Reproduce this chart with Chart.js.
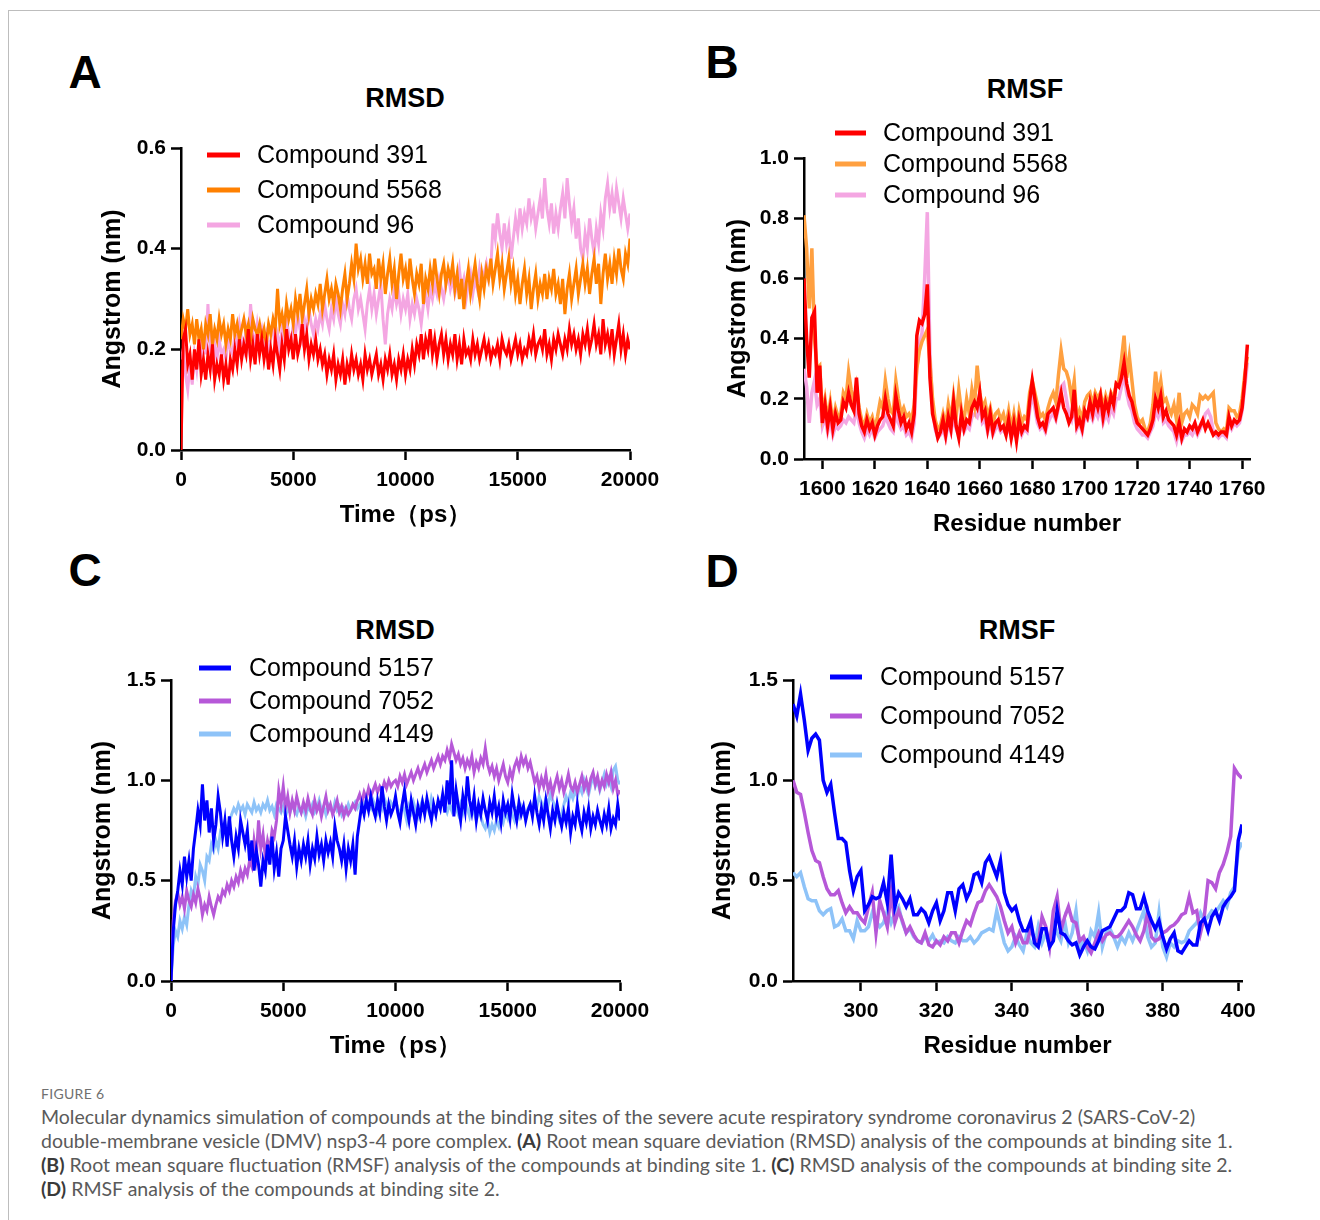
<!DOCTYPE html>
<html>
<head>
<meta charset="utf-8">
<title>Figure 6</title>
<script src="https://cdn.jsdelivr.net/npm/chart.js@4.4.1/dist/chart.umd.min.js"></script>
<style>
  html, body { margin: 0; padding: 0; background: #fff; }
  #page { position: relative; width: 1320px; height: 1220px; overflow: hidden; font-family: 'Liberation Sans', Arial, sans-serif; }
  .frame { position: absolute; left: 8px; top: 10px; width: 1400px; height: 1300px; border-top: 1px solid #bdbdbd; border-left: 1px solid #bdbdbd; }
  .c { position: absolute; transform: translate(-50%, -50%); line-height: 1; white-space: nowrap; color: #000; font-weight: bold; }
  .letter { font-size: 46px; }
  .ptitle { font-size: 27px; }
  canvas { position: absolute; }
  .figno { position: absolute; left: 41px; top: 1085px; font: 14px Lato, sans-serif; color: #707070; letter-spacing: 0.3px; }
  .caption { position: absolute; left: 41px; top: 1105px; font: 19.5px/24px Lato, sans-serif; color: #5a5a5a; white-space: nowrap; }
  .caption b { color: #3a3a3a; }
</style>
</head>
<body>
<div id="page">
  <div class="frame"></div>

  <div class="c letter" style="left:85px;top:72px">A</div>
  <div class="c letter" style="left:722px;top:62px">B</div>
  <div class="c letter" style="left:85px;top:570px">C</div>
  <div class="c letter" style="left:722px;top:571px">D</div>

  <div class="c ptitle" style="left:405px;top:98px">RMSD</div>
  <div class="c ptitle" style="left:1025px;top:89px">RMSF</div>
  <div class="c ptitle" style="left:395px;top:630px">RMSD</div>
  <div class="c ptitle" style="left:1017px;top:630px">RMSF</div>

  <canvas id="chartA" width="572" height="442" style="left:98px;top:88px"></canvas>
  <canvas id="chartB" width="557" height="451" style="left:723px;top:88px"></canvas>
  <canvas id="chartC" width="572" height="441" style="left:88px;top:620px"></canvas>
  <canvas id="chartD" width="564" height="441" style="left:708px;top:620px"></canvas>

  <div class="figno">FIGURE 6</div>
  <div class="caption">Molecular dynamics simulation of compounds at the binding sites of the severe acute respiratory syndrome coronavirus 2 (SARS-CoV-2)<br>double-membrane vesicle (DMV) nsp3-4 pore complex. <b>(A)</b> Root mean square deviation (RMSD) analysis of the compounds at binding site 1.<br><b>(B)</b> Root mean square fluctuation (RMSF) analysis of the compounds at binding site 1. <b>(C)</b> RMSD analysis of the compounds at binding site 2.<br><b>(D)</b> RMSF analysis of the compounds at binding site 2.</div>
</div>

<script>
// ---- data ----
const timePs = Array.from({ length: 201 }, (_, i) => i * 100);
const residuesB = Array.from({ length: 170 }, (_, i) => 1593 + i);
const residuesD = Array.from({ length: 120 }, (_, i) => 282 + i);

const xTicksRmsd = [0, 5000, 10000, 15000, 20000];
const yTicksA = [0, 0.2, 0.4, 0.6];
const xTicksB = [1600, 1620, 1640, 1660, 1680, 1700, 1720, 1740, 1760];
const yTicksB = [0, 0.2, 0.4, 0.6, 0.8, 1.0];
const yTicksCD = [0, 0.5, 1.0, 1.5];
const xTicksD = [300, 320, 340, 360, 380, 400];

// A: RMSD, binding site 1
const rmsd391 = [
  0.00, 0.22, 0.24, 0.17, 0.19, 0.14, 0.20, 0.16, 0.22, 0.15, 0.18, 0.14, 0.19, 0.16, 0.21, 0.14, 0.17, 0.15, 0.19, 0.14,
  0.17, 0.13, 0.18, 0.16, 0.20, 0.17, 0.22, 0.18, 0.21, 0.19, 0.24, 0.18, 0.21, 0.17, 0.23, 0.19, 0.22, 0.18, 0.21, 0.16,
  0.20, 0.17, 0.22, 0.19, 0.16, 0.21, 0.18, 0.24, 0.20, 0.22, 0.18, 0.23, 0.19, 0.21, 0.25, 0.20, 0.23, 0.18, 0.21, 0.19,
  0.22, 0.18, 0.20, 0.17, 0.19, 0.15, 0.18, 0.16, 0.19, 0.14, 0.17, 0.15, 0.18, 0.13, 0.17, 0.15, 0.19, 0.16, 0.18, 0.15,
  0.17, 0.14, 0.19, 0.16, 0.18, 0.15, 0.17, 0.19, 0.15, 0.17, 0.14, 0.18, 0.16, 0.19, 0.15, 0.17, 0.14, 0.18, 0.16, 0.19,
  0.15, 0.18, 0.16, 0.20, 0.17, 0.21, 0.19, 0.23, 0.18, 0.22, 0.20, 0.24, 0.19, 0.22, 0.18, 0.21, 0.23, 0.19, 0.22, 0.18,
  0.21, 0.19, 0.23, 0.18, 0.21, 0.17, 0.22, 0.19, 0.20, 0.18, 0.22, 0.19, 0.21, 0.18, 0.20, 0.22, 0.19, 0.21, 0.18, 0.20,
  0.19, 0.21, 0.18, 0.22, 0.20, 0.19, 0.21, 0.18, 0.20, 0.22, 0.19, 0.21, 0.18, 0.20, 0.19, 0.22, 0.20, 0.23, 0.19, 0.21,
  0.22, 0.20, 0.24, 0.19, 0.21, 0.18, 0.22, 0.20, 0.23, 0.21, 0.19, 0.22, 0.20, 0.24, 0.21, 0.23, 0.20, 0.22, 0.19, 0.23,
  0.21, 0.24, 0.20, 0.22, 0.25, 0.21, 0.23, 0.19, 0.26, 0.21, 0.23, 0.20, 0.24, 0.19, 0.22, 0.25, 0.20, 0.23, 0.19, 0.22,
  0.20
];
const rmsd5568 = [
  0.22, 0.26, 0.24, 0.28, 0.23, 0.25, 0.21, 0.26, 0.22, 0.24, 0.20, 0.25, 0.23, 0.27, 0.21, 0.24, 0.22, 0.26, 0.23, 0.25,
  0.21, 0.24, 0.22, 0.27, 0.23, 0.25, 0.22, 0.24, 0.26, 0.23, 0.25, 0.22, 0.26, 0.24, 0.23, 0.25, 0.22, 0.24, 0.21, 0.25,
  0.23, 0.26, 0.24, 0.32, 0.25, 0.27, 0.24, 0.29, 0.26, 0.28, 0.25, 0.30, 0.27, 0.31, 0.26, 0.29, 0.32, 0.27, 0.30, 0.28,
  0.31, 0.29, 0.33, 0.28, 0.31, 0.34, 0.30, 0.32, 0.29, 0.33, 0.31, 0.28, 0.32, 0.35, 0.30, 0.33, 0.37, 0.34, 0.41, 0.36,
  0.38, 0.34, 0.37, 0.33, 0.39, 0.35, 0.36, 0.32, 0.38, 0.34, 0.37, 0.31, 0.35, 0.38, 0.33, 0.36, 0.30, 0.35, 0.39, 0.34,
  0.36, 0.32, 0.38, 0.34, 0.31, 0.35, 0.33, 0.37, 0.29, 0.34, 0.32, 0.36, 0.33, 0.38, 0.34, 0.31, 0.35, 0.37, 0.33, 0.36,
  0.34, 0.37, 0.32, 0.35, 0.30, 0.34, 0.28, 0.33, 0.36, 0.31, 0.34, 0.37, 0.33, 0.30, 0.35, 0.32, 0.36, 0.34, 0.38, 0.33,
  0.36, 0.39, 0.34, 0.37, 0.32, 0.35, 0.38, 0.33, 0.36, 0.31, 0.34, 0.29, 0.33, 0.36, 0.31, 0.34, 0.28, 0.32, 0.35, 0.30,
  0.33, 0.31, 0.35, 0.30, 0.34, 0.32, 0.36, 0.31, 0.33, 0.29, 0.34, 0.27, 0.32, 0.35, 0.30, 0.33, 0.36, 0.31, 0.34, 0.37,
  0.33, 0.36, 0.31, 0.35, 0.38, 0.33, 0.37, 0.29, 0.35, 0.39, 0.34, 0.37, 0.33, 0.38, 0.35, 0.40, 0.36, 0.34, 0.39, 0.37,
  0.42
];
const rmsd96 = [
  0.18, 0.20, 0.15, 0.12, 0.17, 0.13, 0.19, 0.16, 0.21, 0.18, 0.23, 0.19, 0.29, 0.20, 0.17, 0.21, 0.18, 0.22, 0.19, 0.20,
  0.18, 0.22, 0.20, 0.19, 0.23, 0.21, 0.25, 0.22, 0.20, 0.24, 0.21, 0.29, 0.23, 0.21, 0.25, 0.22, 0.24, 0.21, 0.23, 0.20,
  0.22, 0.25, 0.21, 0.23, 0.20, 0.24, 0.22, 0.26, 0.23, 0.21, 0.25, 0.23, 0.27, 0.24, 0.22, 0.26, 0.24, 0.28, 0.25, 0.23,
  0.26, 0.24, 0.27, 0.25, 0.29, 0.26, 0.24, 0.28, 0.26, 0.30, 0.27, 0.25, 0.29, 0.27, 0.31, 0.28, 0.26, 0.30, 0.32, 0.28,
  0.30, 0.27, 0.24, 0.29, 0.32, 0.28, 0.31, 0.27, 0.30, 0.33, 0.26, 0.21, 0.27, 0.30, 0.28, 0.32, 0.29, 0.31, 0.27, 0.30,
  0.28, 0.31, 0.26, 0.29, 0.27, 0.30, 0.28, 0.25, 0.29, 0.31, 0.28, 0.32, 0.30, 0.33, 0.31, 0.34, 0.32, 0.30, 0.33, 0.35,
  0.32, 0.34, 0.31, 0.33, 0.36, 0.32, 0.34, 0.30, 0.33, 0.35, 0.31, 0.34, 0.32, 0.36, 0.33, 0.35, 0.37, 0.34, 0.36, 0.45,
  0.42, 0.47, 0.43, 0.40, 0.45, 0.41, 0.44, 0.38, 0.42, 0.46, 0.43, 0.48, 0.44, 0.47, 0.45, 0.50, 0.46, 0.48, 0.44, 0.47,
  0.50, 0.46, 0.54, 0.48, 0.45, 0.49, 0.43, 0.47, 0.44, 0.48, 0.51, 0.46, 0.54, 0.49, 0.45, 0.48, 0.42, 0.46, 0.40, 0.38,
  0.43, 0.40, 0.46, 0.42, 0.39, 0.44, 0.41, 0.47, 0.44, 0.50, 0.53, 0.48, 0.51, 0.47, 0.52, 0.49, 0.46, 0.50, 0.47, 0.44,
  0.47
];

// B: RMSF, binding site 1 (residues 1593-1762)
const rmsf391 = [
  0.60, 0.40, 0.27, 0.47, 0.49, 0.22, 0.31, 0.12, 0.18, 0.11,
  0.17, 0.10, 0.15, 0.12, 0.13, 0.19, 0.17, 0.22, 0.18, 0.16,
  0.27, 0.15, 0.11, 0.09, 0.13, 0.10, 0.12, 0.08, 0.11, 0.13,
  0.14, 0.20, 0.15, 0.13, 0.11, 0.21, 0.16, 0.12, 0.14, 0.10,
  0.12, 0.09, 0.15, 0.41, 0.46, 0.45, 0.48, 0.58, 0.27, 0.15,
  0.11, 0.07, 0.09, 0.13, 0.08, 0.14, 0.10, 0.19, 0.11, 0.07,
  0.15, 0.10, 0.13, 0.12, 0.17, 0.19, 0.17, 0.22, 0.14, 0.16,
  0.10, 0.15, 0.09, 0.12, 0.13, 0.10, 0.11, 0.08, 0.13, 0.07,
  0.12, 0.06, 0.13, 0.09, 0.11, 0.10, 0.19, 0.26, 0.20, 0.14,
  0.11, 0.12, 0.10, 0.15, 0.16, 0.17, 0.14, 0.18, 0.22, 0.17,
  0.15, 0.12, 0.14, 0.23, 0.11, 0.13, 0.10, 0.16, 0.14, 0.19,
  0.15, 0.20, 0.17, 0.21, 0.14, 0.19, 0.16, 0.21, 0.18, 0.25,
  0.24, 0.27, 0.32, 0.25, 0.21, 0.19, 0.15, 0.12, 0.11, 0.10,
  0.09, 0.08, 0.10, 0.13, 0.20, 0.17, 0.21, 0.14, 0.16, 0.13,
  0.12, 0.11, 0.08, 0.12, 0.07, 0.10, 0.09, 0.11, 0.10, 0.12,
  0.09, 0.11, 0.13, 0.10, 0.12, 0.10, 0.08, 0.09, 0.08, 0.09,
  0.09, 0.08, 0.14, 0.11, 0.13, 0.12, 0.13, 0.17, 0.26, 0.38
];
const rmsf5568 = [
  0.81, 0.70, 0.50, 0.70, 0.40, 0.30, 0.31, 0.15, 0.20, 0.13,
  0.19, 0.12, 0.17, 0.14, 0.15, 0.22, 0.20, 0.29, 0.23, 0.19,
  0.24, 0.17, 0.13, 0.11, 0.15, 0.12, 0.14, 0.10, 0.14, 0.19,
  0.17, 0.26, 0.20, 0.16, 0.15, 0.26, 0.20, 0.15, 0.17, 0.14,
  0.15, 0.13, 0.18, 0.30, 0.36, 0.39, 0.41, 0.43, 0.32, 0.20,
  0.13, 0.10, 0.11, 0.15, 0.11, 0.18, 0.13, 0.21, 0.14, 0.23,
  0.16, 0.13, 0.20, 0.15, 0.23, 0.18, 0.31, 0.22, 0.17, 0.19,
  0.14, 0.17, 0.12, 0.15, 0.16, 0.13, 0.15, 0.11, 0.16, 0.10,
  0.15, 0.09, 0.16, 0.12, 0.14, 0.13, 0.22, 0.26, 0.22, 0.18,
  0.14, 0.15, 0.13, 0.17, 0.20, 0.22, 0.19, 0.28, 0.36, 0.30,
  0.29, 0.26, 0.20, 0.26, 0.13, 0.16, 0.13, 0.19, 0.21, 0.22,
  0.18, 0.22, 0.20, 0.22, 0.17, 0.21, 0.18, 0.22, 0.20, 0.25,
  0.26, 0.33, 0.41, 0.27, 0.34, 0.26, 0.18, 0.14, 0.12, 0.13,
  0.10, 0.09, 0.12, 0.18, 0.29, 0.21, 0.26, 0.19, 0.20, 0.17,
  0.15, 0.18, 0.13, 0.22, 0.12, 0.15, 0.16, 0.14, 0.18, 0.17,
  0.15, 0.21, 0.20, 0.21, 0.20, 0.21, 0.22, 0.12, 0.10, 0.09,
  0.10, 0.09, 0.17, 0.16, 0.16, 0.14, 0.15, 0.20, 0.28, 0.34
];
const rmsf96 = [
  0.30, 0.24, 0.12, 0.22, 0.26, 0.18, 0.20, 0.11, 0.14, 0.09,
  0.13, 0.08, 0.11, 0.10, 0.11, 0.13, 0.12, 0.14, 0.13, 0.12,
  0.17, 0.12, 0.09, 0.07, 0.10, 0.08, 0.10, 0.07, 0.09, 0.10,
  0.11, 0.14, 0.12, 0.10, 0.09, 0.15, 0.12, 0.10, 0.11, 0.08,
  0.09, 0.07, 0.12, 0.30, 0.38, 0.42, 0.60, 0.82, 0.35, 0.18,
  0.10, 0.07, 0.08, 0.10, 0.07, 0.12, 0.09, 0.14, 0.10, 0.08,
  0.12, 0.09, 0.11, 0.10, 0.14, 0.15, 0.14, 0.18, 0.12, 0.13,
  0.09, 0.12, 0.08, 0.10, 0.11, 0.09, 0.10, 0.08, 0.11, 0.07,
  0.10, 0.07, 0.11, 0.08, 0.10, 0.09, 0.16, 0.22, 0.17, 0.12,
  0.10, 0.11, 0.09, 0.12, 0.14, 0.15, 0.13, 0.17, 0.24, 0.25,
  0.20, 0.15, 0.13, 0.18, 0.10, 0.12, 0.09, 0.14, 0.13, 0.15,
  0.13, 0.16, 0.14, 0.17, 0.12, 0.15, 0.13, 0.17, 0.15, 0.20,
  0.20, 0.24, 0.28, 0.22, 0.18, 0.16, 0.12, 0.10, 0.09, 0.08,
  0.08, 0.07, 0.09, 0.11, 0.16, 0.14, 0.17, 0.12, 0.13, 0.11,
  0.10, 0.09, 0.06, 0.10, 0.06, 0.08, 0.08, 0.09, 0.08, 0.10,
  0.08, 0.10, 0.12, 0.15, 0.16, 0.14, 0.09, 0.08, 0.07, 0.08,
  0.08, 0.07, 0.12, 0.10, 0.12, 0.11, 0.12, 0.16, 0.24, 0.32
];

// C: RMSD, binding site 2
const rmsd5157 = [
  0.00, 0.25, 0.38, 0.45, 0.55, 0.48, 0.62, 0.52, 0.60, 0.50, 0.66, 0.75, 0.85, 0.78, 0.98, 0.80, 0.90, 0.74, 0.86, 0.70,
  0.78, 0.92, 0.84, 0.72, 0.80, 0.67, 0.82, 0.70, 0.62, 0.72, 0.66, 0.80, 0.74, 0.68, 0.75, 0.60, 0.70, 0.55, 0.65, 0.58,
  0.47, 0.60, 0.55, 0.68, 0.58, 0.72, 0.56, 0.64, 0.52, 0.66, 0.70, 0.82, 0.75, 0.68, 0.62, 0.70, 0.57, 0.66, 0.60, 0.68,
  0.62, 0.70, 0.58, 0.66, 0.61, 0.72, 0.63, 0.68, 0.60, 0.70, 0.64, 0.69, 0.62, 0.77, 0.70, 0.66, 0.60, 0.68, 0.56, 0.66,
  0.60, 0.68, 0.53, 0.72, 0.80, 0.88, 0.83, 0.90, 0.85, 0.92, 0.86, 0.82, 0.90, 0.84, 0.97, 0.87, 0.80, 0.88, 0.83, 0.86,
  0.92, 0.84, 0.79, 0.88, 0.95, 0.86, 0.80, 0.90, 0.84, 0.78, 0.87, 0.82, 0.89, 0.83, 0.91, 0.85, 0.80, 0.88, 0.83, 0.90,
  0.86, 0.93, 0.84, 1.00, 0.88, 1.10, 0.82, 0.95, 0.87, 0.80, 0.92, 0.85, 1.02, 0.90, 0.84, 0.92, 0.80, 0.88, 0.83, 0.91,
  0.85, 0.80, 0.89, 0.84, 0.92, 0.82, 0.87, 0.79, 0.90, 0.84, 0.88, 0.81, 0.93, 0.86, 0.80, 0.89, 0.83, 0.87, 0.80, 0.85,
  0.88, 0.82, 0.92, 0.84, 0.78, 0.86, 0.80, 0.90, 0.83, 0.76, 0.85, 0.80, 0.88, 0.82, 0.77, 0.84, 0.79, 0.86, 0.74, 0.82,
  0.78, 0.88, 0.80, 0.75, 0.84, 0.79, 0.86, 0.76, 0.82, 0.78, 0.85, 0.80, 0.76, 0.83, 0.78, 0.86, 0.76, 0.81, 0.78, 0.88,
  0.80
];
const rmsd7052 = [
  0.00, 0.30, 0.40, 0.44, 0.38, 0.42, 0.36, 0.45, 0.40, 0.37, 0.43, 0.39, 0.46, 0.41, 0.33, 0.38, 0.35, 0.42, 0.37, 0.33,
  0.38, 0.42, 0.40, 0.45, 0.43, 0.48, 0.45, 0.50, 0.47, 0.52, 0.49, 0.55, 0.51, 0.56, 0.53, 0.60, 0.57, 0.70, 0.62, 0.80,
  0.66, 0.73, 0.62, 0.70, 0.65, 0.75, 0.72, 0.80, 0.95, 0.88, 0.97, 0.86, 0.92, 0.84, 0.90, 0.85, 0.92, 0.87, 0.84, 0.89,
  0.85, 0.91, 0.86, 0.83, 0.90, 0.85, 0.88, 0.82, 0.87, 0.92, 0.85, 0.88, 0.83, 0.86, 0.90, 0.84, 0.87, 0.82, 0.86, 0.83,
  0.85, 0.88, 0.86, 0.90, 0.93, 0.89, 0.94, 0.91, 0.96, 0.92, 0.95, 0.98, 0.94, 0.97, 0.95, 0.99, 0.96, 1.00, 0.97, 0.99,
  1.00, 0.97, 1.02, 0.99, 1.03, 0.98, 1.01, 1.04, 1.00, 1.03, 1.06, 1.02, 1.05, 1.08, 1.04, 1.07, 1.10, 1.06, 1.09, 1.12,
  1.08, 1.12, 1.10, 1.15, 1.11, 1.18, 1.14, 1.10, 1.13, 1.08, 1.11, 1.06, 1.10, 1.07, 1.12, 1.04, 1.09, 1.06, 1.11, 1.08,
  1.16, 1.08, 1.04, 1.07, 1.02, 1.06, 1.00, 1.04, 1.08, 1.02, 0.99, 1.05, 1.01, 1.07, 1.10, 1.06, 1.12, 1.08, 1.11, 1.06,
  1.09, 1.04, 0.99, 1.02, 0.96, 1.01, 0.97, 1.03, 0.95, 0.99, 0.93, 0.98, 1.02, 0.96, 1.00, 0.94, 0.98, 1.03, 0.97, 0.95,
  0.99, 0.94, 0.98, 1.02, 0.96, 1.00, 0.95, 1.01, 1.04, 0.98, 1.02, 0.96, 1.00, 0.97, 1.03, 0.99, 1.04, 0.96, 1.00, 0.93,
  0.95
];
const rmsd4149 = [
  0.00, 0.18, 0.25, 0.22, 0.30, 0.26, 0.32, 0.28, 0.38, 0.45, 0.42, 0.52, 0.48, 0.58, 0.55, 0.50, 0.62, 0.60, 0.68, 0.65,
  0.70, 0.66, 0.74, 0.72, 0.78, 0.75, 0.80, 0.83, 0.86, 0.84, 0.88, 0.85, 0.87, 0.83, 0.88, 0.86, 0.84, 0.89, 0.85, 0.87,
  0.84, 0.88, 0.86, 0.90, 0.85, 0.87, 0.83, 0.88, 0.86, 0.84, 0.87, 0.82, 0.86, 0.84, 0.88, 0.85, 0.83, 0.87, 0.84, 0.86,
  0.82, 0.87, 0.85, 0.88, 0.84, 0.86, 0.90, 0.85, 0.87, 0.83, 0.88, 0.86, 0.84, 0.89, 0.85, 0.87, 0.83, 0.86, 0.84, 0.88,
  0.85, 0.87, 0.89, 0.86, 0.88, 0.90, 0.87, 0.91, 0.88, 0.86, 0.90, 0.87, 0.84, 0.89, 0.86, 0.91, 0.88, 0.85, 0.89, 0.87,
  0.90, 0.86, 0.83, 0.88, 0.85, 0.80, 0.87, 0.84, 0.89, 0.85, 0.82, 0.87, 0.90, 0.86, 0.88, 0.84, 0.91, 0.87, 0.85, 0.89,
  0.86, 0.90, 0.87, 0.84, 0.88, 0.85, 0.89, 0.86, 0.83, 0.88, 0.84, 0.90, 0.86, 0.82, 0.87, 0.84, 0.80, 0.85, 0.82, 0.78,
  0.76, 0.80, 0.74, 0.78, 0.75, 0.80, 0.77, 0.82, 0.79, 0.84, 0.81, 0.86, 0.83, 0.80, 0.85, 0.82, 0.87, 0.84, 0.81, 0.86,
  0.88, 0.85, 0.90, 0.87, 0.92, 0.89, 0.86, 0.91, 0.88, 0.93, 0.90, 0.87, 0.84, 0.80, 0.83, 0.88, 0.92, 0.89, 0.94, 0.91,
  0.95, 0.92, 0.97, 0.94, 1.00, 0.96, 0.93, 0.98, 1.02, 0.97, 1.00, 0.95, 0.99, 1.03, 0.98, 1.01, 0.97, 1.05, 1.07, 1.00,
  0.98
];

// D: RMSF, binding site 2 (residues 282-401)
const rmsfD5157 = [
  1.38, 1.32, 1.43, 1.30, 1.15, 1.21, 1.23, 1.20, 1.00, 0.94,
  0.98, 0.84, 0.71, 0.71, 0.69, 0.55, 0.45, 0.52, 0.55, 0.35,
  0.38, 0.42, 0.41, 0.42, 0.49, 0.39, 0.63, 0.37, 0.44, 0.41,
  0.37, 0.41, 0.33, 0.33, 0.36, 0.34, 0.29, 0.35, 0.39, 0.30,
  0.35, 0.44, 0.44, 0.35, 0.46, 0.48, 0.41, 0.45, 0.53, 0.54,
  0.49, 0.59, 0.62, 0.57, 0.52, 0.60, 0.44, 0.38, 0.35, 0.37,
  0.30, 0.25, 0.25, 0.30, 0.19, 0.17, 0.26, 0.26, 0.17, 0.20,
  0.35, 0.24, 0.23, 0.20, 0.18, 0.19, 0.13, 0.17, 0.20, 0.17,
  0.16, 0.20, 0.25, 0.26, 0.27, 0.31, 0.35, 0.35, 0.37, 0.44,
  0.43, 0.36, 0.36, 0.42, 0.35, 0.30, 0.26, 0.30, 0.22, 0.16,
  0.21, 0.24, 0.15, 0.14, 0.17, 0.20, 0.18, 0.18, 0.29, 0.31,
  0.25, 0.32, 0.35, 0.30, 0.37, 0.40, 0.42, 0.45, 0.70, 0.78
];
const rmsfD7052 = [
  1.00, 0.94, 0.93, 0.84, 0.74, 0.65, 0.60, 0.59, 0.52, 0.46,
  0.43, 0.43, 0.45, 0.39, 0.34, 0.37, 0.34, 0.34, 0.31, 0.29,
  0.37, 0.44, 0.24, 0.40, 0.34, 0.27, 0.44, 0.29, 0.35, 0.30,
  0.24, 0.27, 0.23, 0.20, 0.19, 0.24, 0.18, 0.17, 0.20, 0.18,
  0.22, 0.20, 0.24, 0.24, 0.19, 0.25, 0.30, 0.28, 0.34, 0.39,
  0.40, 0.45, 0.48, 0.45, 0.42, 0.37, 0.30, 0.24, 0.27, 0.19,
  0.24, 0.19, 0.19, 0.26, 0.21, 0.19, 0.32, 0.27, 0.17, 0.35,
  0.42, 0.25, 0.32, 0.37, 0.30, 0.29, 0.20, 0.22, 0.17, 0.14,
  0.19, 0.24, 0.20, 0.23, 0.24, 0.22, 0.22, 0.24, 0.27, 0.30,
  0.27, 0.23, 0.20, 0.25, 0.34, 0.22, 0.20, 0.21, 0.24, 0.25,
  0.27, 0.28, 0.30, 0.33, 0.34, 0.42, 0.34, 0.35, 0.24, 0.32,
  0.50, 0.49, 0.46, 0.54, 0.58, 0.64, 0.72, 1.06, 1.03, 1.01
];
const rmsfD4149 = [
  0.54, 0.52, 0.54, 0.47, 0.41, 0.40, 0.40, 0.35, 0.33, 0.35,
  0.36, 0.27, 0.28, 0.31, 0.25, 0.25, 0.21, 0.30, 0.25, 0.25,
  0.27, 0.34, 0.30, 0.27, 0.29, 0.35, 0.29, 0.34, 0.37, 0.29,
  0.24, 0.26, 0.22, 0.20, 0.19, 0.22, 0.20, 0.23, 0.19, 0.20,
  0.19, 0.22, 0.20, 0.19, 0.22, 0.20, 0.20, 0.22, 0.19, 0.21,
  0.24, 0.25, 0.26, 0.25, 0.35, 0.27, 0.19, 0.15, 0.17, 0.22,
  0.18, 0.15, 0.24, 0.19, 0.17, 0.27, 0.19, 0.24, 0.17, 0.30,
  0.24, 0.20, 0.30, 0.19, 0.24, 0.35, 0.17, 0.20, 0.15, 0.25,
  0.22, 0.34, 0.17, 0.24, 0.26, 0.22, 0.17, 0.22, 0.19, 0.24,
  0.20, 0.25, 0.30, 0.35, 0.22, 0.17, 0.19, 0.34, 0.17, 0.12,
  0.19, 0.17, 0.20, 0.19, 0.20, 0.25, 0.27, 0.29, 0.34, 0.30,
  0.32, 0.35, 0.34, 0.37, 0.40, 0.37, 0.44, 0.47, 0.65, 0.69
];

// ---- chart setup ----
Chart.defaults.font.family = "'Liberation Sans', Arial, sans-serif";
Chart.defaults.color = '#000';

const tickFont = { size: 21, weight: 'bold' };
const axisTitleFont = { size: 24, weight: 'bold' };
const yTitleFont = { size: 25, weight: 'bold' };

// legend drawn inside / above the plot, like the Prism originals
const insetLegend = {
  id: 'insetLegend',
  afterDatasetsDraw(chart, args, opts) {
    const { ctx, chartArea } = chart;
    ctx.save();
    ctx.font = opts.font;
    ctx.textBaseline = 'middle';
    ctx.textAlign = 'left';
    chart.data.datasets.forEach((ds, i) => {
      const y = chartArea.top + opts.dy + i * opts.gap;
      const x0 = chartArea.left + opts.dx;
      ctx.strokeStyle = ds.borderColor;
      ctx.lineWidth = 5;
      ctx.beginPath();
      ctx.moveTo(x0, y);
      ctx.lineTo(x0 + opts.len, y);
      ctx.stroke();
      ctx.fillStyle = '#000';
      ctx.fillText(ds.label, x0 + opts.len + opts.textGap, y + 1);
    });
    ctx.restore();
  }
};

function makePanel(id, cfg) {
  const canvas = document.getElementById(id);
  if (!canvas) {
    console.error('Canvas no encontrado: ' + id);
    return null;
  }
  return new Chart(canvas, {
    type: 'line',
    data: {
      datasets: cfg.series.map(s => ({
        label: s.label,
        data: s.values.map((v, i) => ({ x: cfg.xs[i], y: v })),
        borderColor: s.color,
        backgroundColor: s.color,
        borderWidth: cfg.lineWidth,
        pointRadius: 0,
        tension: 0,
        fill: false
      }))
    },
    options: {
      responsive: false,
      animation: false,
      events: [],
      layout: { padding: cfg.padding },
      plugins: {
        legend: { display: false },
        tooltip: { enabled: false },
        insetLegend: cfg.legend
      },
      scales: {
        x: {
          type: 'linear',
          min: cfg.xMin,
          max: cfg.xMax,
          afterBuildTicks: s => { s.ticks = cfg.xTicks.map(v => ({ value: v })); },
          afterFit: s => { s.height = 80; },
          grid: { drawOnChartArea: false, drawTicks: true, tickLength: 10, tickWidth: 2.5, tickColor: '#000' },
          border: { display: true, color: '#000', width: 2.5 },
          ticks: { font: tickFont, color: '#000', padding: 8, maxRotation: 0, autoSkip: false, callback: v => String(v) },
          title: { display: true, text: cfg.xTitle, font: axisTitleFont, color: '#000', padding: 0 }
        },
        y: {
          type: 'linear',
          min: 0,
          max: cfg.yMax,
          afterBuildTicks: s => { s.ticks = cfg.yTicks.map(v => ({ value: v })); },
          afterFit: s => { s.width = cfg.yBoxWidth; },
          grid: { drawOnChartArea: false, drawTicks: true, tickLength: 10, tickWidth: 2.5, tickColor: '#000' },
          border: { display: true, color: '#000', width: 2.5 },
          ticks: { font: tickFont, color: '#000', padding: 5, callback: v => v.toFixed(1) },
          title: { display: true, text: 'Angstrom (nm)', font: yTitleFont, color: '#000', padding: 0 }
        }
      }
    },
    plugins: [insetLegend]
  });
}

makePanel('chartA', {
  xs: timePs, xMin: 0, xMax: 20000, xTicks: xTicksRmsd, yMax: 0.6, yTicks: yTicksA,
  xTitle: 'Time（ps）', yBoxWidth: 83, lineWidth: 3,
  padding: { left: 0, top: 60, right: 40, bottom: 0 },
  legend: { font: '25px "Liberation Sans", Arial, sans-serif', dx: 26, dy: 7, gap: 35, len: 33, textGap: 17 },
  series: [
    { label: 'Compound 391', values: rmsd391, color: '#ff0000' },
    { label: 'Compound 5568', values: rmsd5568, color: '#ff8000' },
    { label: 'Compound 96', values: rmsd96, color: '#f4a6e2' }
  ]
});

makePanel('chartB', {
  xs: residuesB, xMin: 1593, xMax: 1763, xTicks: xTicksB, yMax: 1.0, yTicks: yTicksB,
  xTitle: 'Residue number', yBoxWidth: 81, lineWidth: 3.5,
  padding: { left: 0, top: 70, right: 30, bottom: 0 },
  legend: { font: '25px "Liberation Sans", Arial, sans-serif', dx: 31, dy: -25, gap: 31, len: 31, textGap: 17 },
  series: [
    { label: 'Compound 391', values: rmsf391, color: '#ff0000' },
    { label: 'Compound 5568', values: rmsf5568, color: '#ffa040' },
    { label: 'Compound 96', values: rmsf96, color: '#f4a6e2' }
  ]
});

makePanel('chartC', {
  xs: timePs, xMin: 0, xMax: 20000, xTicks: xTicksRmsd, yMax: 1.5, yTicks: yTicksCD,
  xTitle: 'Time（ps）', yBoxWidth: 83, lineWidth: 3,
  padding: { left: 0, top: 60, right: 40, bottom: 0 },
  legend: { font: '25px "Liberation Sans", Arial, sans-serif', dx: 28, dy: -12, gap: 33, len: 32, textGap: 18 },
  series: [
    { label: 'Compound 5157', values: rmsd5157, color: '#0000ff' },
    { label: 'Compound 7052', values: rmsd7052, color: '#b658d8' },
    { label: 'Compound 4149', values: rmsd4149, color: '#8ec3f8' }
  ]
});

makePanel('chartD', {
  xs: residuesD, xMin: 282, xMax: 401, xTicks: xTicksD, yMax: 1.5, yTicks: yTicksCD,
  xTitle: 'Residue number', yBoxWidth: 85, lineWidth: 3.5,
  padding: { left: 0, top: 60, right: 30, bottom: 0 },
  legend: { font: '25px "Liberation Sans", Arial, sans-serif', dx: 37, dy: -3, gap: 39, len: 32, textGap: 18 },
  series: [
    { label: 'Compound 5157', values: rmsfD5157, color: '#0000ff' },
    { label: 'Compound 7052', values: rmsfD7052, color: '#b658d8' },
    { label: 'Compound 4149', values: rmsfD4149, color: '#8ec3f8' }
  ]
});
</script>
</body>
</html>
